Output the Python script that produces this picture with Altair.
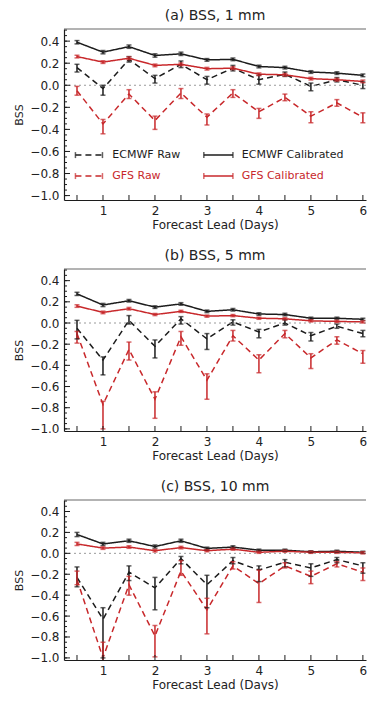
import altair as alt
import pandas as pd

# ---------------- data ----------------
lead = [0.5, 1.0, 1.5, 2.0, 2.5, 3.0, 3.5, 4.0, 4.5, 5.0, 5.5, 6.0]
series_names = ["ECMWF Raw", "ECMWF Calibrated", "GFS Raw", "GFS Calibrated"]

# (a) 1 mm
a_ec_raw = [0.16, -0.03, 0.235, 0.06, 0.19, 0.05, 0.155, 0.05, 0.10, -0.01, 0.05, 0.0]
a_ec_raw_lo = [0.12, -0.09, 0.21, 0.02, 0.16, 0.01, 0.13, 0.01, 0.08, -0.05, 0.03, -0.03]
a_ec_raw_hi = [0.19, 0.00, 0.26, 0.09, 0.22, 0.08, 0.18, 0.09, 0.12, 0.02, 0.07, 0.03]
a_ec_cal = [0.39, 0.30, 0.35, 0.27, 0.285, 0.23, 0.235, 0.17, 0.16, 0.12, 0.11, 0.09]
a_ec_cal_err = [0.015, 0.015, 0.015, 0.015, 0.015, 0.012, 0.012, 0.012, 0.012, 0.012, 0.012, 0.012]
a_gfs_raw = [-0.05, -0.35, -0.08, -0.32, -0.07, -0.29, -0.07, -0.24, -0.11, -0.28, -0.16, -0.29]
a_gfs_raw_lo = [-0.09, -0.44, -0.12, -0.40, -0.12, -0.36, -0.11, -0.30, -0.14, -0.34, -0.19, -0.34]
a_gfs_raw_hi = [-0.01, -0.31, -0.04, -0.28, -0.03, -0.26, -0.04, -0.21, -0.08, -0.24, -0.13, -0.25]
a_gfs_cal = [0.26, 0.21, 0.245, 0.18, 0.19, 0.15, 0.155, 0.10, 0.095, 0.06, 0.05, 0.035]
a_gfs_cal_err = [0.012, 0.012, 0.012, 0.012, 0.012, 0.012, 0.012, 0.012, 0.012, 0.012, 0.012, 0.012]

# (b) 5 mm
b_ec_raw = [-0.05, -0.35, 0.025, -0.22, 0.04, -0.15, 0.01, -0.085, 0.0, -0.12, -0.03, -0.10]
b_ec_raw_lo = [-0.15, -0.49, -0.01, -0.33, -0.01, -0.25, -0.02, -0.14, -0.02, -0.17, -0.05, -0.13]
b_ec_raw_hi = [0.025, -0.32, 0.07, -0.16, 0.06, -0.10, 0.03, -0.06, 0.03, -0.09, -0.01, -0.07]
b_ec_cal = [0.275, 0.17, 0.21, 0.15, 0.18, 0.11, 0.125, 0.085, 0.08, 0.045, 0.045, 0.035]
b_ec_cal_err = [0.015, 0.015, 0.012, 0.012, 0.012, 0.012, 0.012, 0.012, 0.012, 0.01, 0.01, 0.01]
b_gfs_raw = [-0.10, -0.77, -0.25, -0.72, -0.13, -0.54, -0.12, -0.35, -0.10, -0.33, -0.16, -0.29]
b_gfs_raw_lo = [-0.19, -1.00, -0.35, -0.90, -0.21, -0.72, -0.17, -0.47, -0.14, -0.43, -0.20, -0.38]
b_gfs_raw_hi = [-0.08, -0.74, -0.18, -0.65, -0.08, -0.48, -0.07, -0.30, -0.07, -0.29, -0.13, -0.26]
b_gfs_cal = [0.16, 0.10, 0.135, 0.08, 0.11, 0.065, 0.07, 0.045, 0.04, 0.02, 0.015, 0.01]
b_gfs_cal_err = [0.012, 0.012, 0.012, 0.01, 0.01, 0.01, 0.01, 0.01, 0.01, 0.01, 0.01, 0.01]

# (c) 10 mm
c_ec_raw = [-0.23, -0.63, -0.18, -0.33, -0.05, -0.30, -0.07, -0.16, -0.085, -0.14, -0.06, -0.12]
c_ec_raw_lo = [-0.32, -1.00, -0.26, -0.54, -0.10, -0.52, -0.10, -0.27, -0.13, -0.22, -0.09, -0.19]
c_ec_raw_hi = [-0.13, -0.52, -0.12, -0.23, -0.03, -0.21, -0.04, -0.12, -0.06, -0.10, -0.04, -0.09]
c_ec_cal = [0.18, 0.09, 0.12, 0.065, 0.12, 0.047, 0.06, 0.03, 0.03, 0.015, 0.02, 0.01]
c_ec_cal_err = [0.02, 0.015, 0.015, 0.015, 0.015, 0.012, 0.012, 0.01, 0.01, 0.01, 0.01, 0.01]
c_gfs_raw = [-0.25, -1.00, -0.30, -0.79, -0.17, -0.54, -0.12, -0.29, -0.12, -0.22, -0.10, -0.18]
c_gfs_raw_lo = [-0.30, -1.03, -0.40, -0.99, -0.21, -0.77, -0.15, -0.47, -0.14, -0.29, -0.13, -0.26]
c_gfs_raw_hi = [-0.17, -0.85, -0.22, -0.69, -0.07, -0.43, -0.08, -0.16, -0.09, -0.17, -0.08, -0.14]
c_gfs_cal = [0.09, 0.05, 0.06, 0.025, 0.055, 0.025, 0.04, 0.01, 0.02, 0.01, 0.01, 0.005]
c_gfs_cal_err = [0.015, 0.012, 0.012, 0.012, 0.012, 0.01, 0.01, 0.01, 0.01, 0.01, 0.01, 0.01]

titles = ["(a) BSS, 1 mm", "(b) BSS, 5 mm", "(c) BSS, 10 mm"]
x_labels = [1, 2, 3, 4, 5, 6]
y_labels = [-1.0, -0.8, -0.6, -0.4, -0.2, 0.0, 0.2, 0.4]

# ---------------- styling ----------------
BLACK = "#1c1c1c"
RED = "#c8282b"
FONT = "DejaVu Sans"
WIDTH = 302
X_DOMAIN = [0.25, 6.06]

X_AXIS = alt.Axis(values=x_labels, format="d", ticks=False, labelPadding=5, labelOverlap=False,
                  title="Forecast Lead (Days)", titlePadding=3)
Y_AXIS = alt.Axis(values=y_labels, format=".1f", ticks=False, labelPadding=5, labelOverlap=False,
                  title="BSS", titlePadding=5)


def build_df(ec_raw, ec_raw_lo, ec_raw_hi, ec_cal, ec_cal_err,
             gfs_raw, gfs_raw_lo, gfs_raw_hi, gfs_cal, gfs_cal_err):
    rows = []
    for i, x in enumerate(lead):
        rows.append(dict(lead=x, series="ECMWF Raw", bss=ec_raw[i], lo=ec_raw_lo[i], hi=ec_raw_hi[i]))
        rows.append(dict(lead=x, series="ECMWF Calibrated", bss=ec_cal[i],
                         lo=ec_cal[i] - ec_cal_err[i], hi=ec_cal[i] + ec_cal_err[i]))
        rows.append(dict(lead=x, series="GFS Raw", bss=gfs_raw[i], lo=gfs_raw_lo[i], hi=gfs_raw_hi[i]))
        rows.append(dict(lead=x, series="GFS Calibrated", bss=gfs_cal[i],
                         lo=gfs_cal[i] - gfs_cal_err[i], hi=gfs_cal[i] + gfs_cal_err[i]))
    return pd.DataFrame(rows)


def panel(df, title, height, ymin, with_legend=False):
    xs = alt.Scale(domain=X_DOMAIN, nice=False, zero=False)
    ys = alt.Scale(domain=[ymin, 0.51], nice=False, zero=False)

    def X(f):
        return alt.X(f, scale=xs, axis=X_AXIS)

    def Y(f):
        return alt.Y(f, scale=ys, axis=Y_AXIS)

    color = alt.Color("series:N", scale=alt.Scale(domain=series_names, range=[BLACK, BLACK, RED, RED]), legend=None)
    dash = alt.StrokeDash("series:N", scale=alt.Scale(domain=series_names, range=[[6, 4], [1, 0], [6, 4], [1, 0]]), legend=None)
    base = alt.Chart(df)
    lines = base.mark_line(strokeWidth=1.5, clip=True).encode(
        x=X("lead:Q"), y=Y("bss:Q"), color=color, strokeDash=dash)
    zero = alt.Chart(pd.DataFrame({"z": [0]})).mark_rule(strokeDash=[2, 3], color="#9a9a9a", strokeWidth=1).encode(
        y=Y("z:Q"))
    frame_top = alt.Chart(pd.DataFrame({"z": [0]})).mark_rule(color="#9a9a9a", strokeWidth=1.5).encode(
        y=alt.value(0), x=alt.value(0), x2=alt.value(WIDTH))
    bars = base.mark_rule(strokeWidth=1.5, clip=True).encode(
        x=X("lead:Q"), y=Y("lo:Q"), y2="hi:Q", color=color)
    caps = base.transform_fold(["lo", "hi"], as_=["k", "v"]).mark_tick(
        orient="horizontal", size=5, thickness=1.5, clip=True).encode(
        x=X("lead:Q"), y=Y("v:Q"), color=color)

    # inward axis ticks
    y_minor = [round(-1.0 + 0.05 * k, 2) for k in range(31)]
    x_minor = [0.5 * k for k in range(1, 13)]
    tk_style = dict(color=BLACK, strokeWidth=1)
    ytick_minor = alt.Chart(pd.DataFrame({"t": y_minor})).mark_rule(**tk_style).encode(
        y=Y("t:Q"), x=alt.value(0), x2=alt.value(3))
    ytick_major = alt.Chart(pd.DataFrame({"t": y_labels})).mark_rule(**tk_style).encode(
        y=Y("t:Q"), x=alt.value(0), x2=alt.value(6))
    xtick = alt.Chart(pd.DataFrame({"t": x_minor})).mark_rule(**tk_style).encode(
        x=X("t:Q"), y=alt.value(height), y2=alt.value(height - 5))

    layers = [lines, zero, frame_top, bars, caps, ytick_minor, ytick_major, xtick]

    if with_legend:
        leg = pd.DataFrame({
            "series": series_names,
            "x0": [0.47, 2.94, 0.47, 2.94],
            "x1": [0.99, 3.50, 0.99, 3.50],
            "tx": [1.18, 3.67, 1.18, 3.67],
            "y": [-0.633, -0.633, -0.823, -0.823],
        })
        lchart = alt.Chart(leg)
        leg_line = lchart.mark_rule(strokeWidth=1.5).encode(
            x=X("x0:Q"), x2="x1:Q", y=Y("y:Q"), color=color, strokeDash=dash)
        leg_cap0 = lchart.mark_tick(orient="vertical", size=6, thickness=1.5).encode(
            x=X("x0:Q"), y=Y("y:Q"), color=color)
        leg_cap1 = lchart.mark_tick(orient="vertical", size=6, thickness=1.5).encode(
            x=X("x1:Q"), y=Y("y:Q"), color=color)
        leg_text = lchart.mark_text(align="left", baseline="middle", font=FONT, fontSize=11).encode(
            x=X("tx:Q"), y=Y("y:Q"), text="series:N", color=color)
        layers += [leg_line, leg_cap0, leg_cap1, leg_text]

    return alt.layer(*layers).properties(
        width=WIDTH, height=height,
        title=alt.TitleParams(title, font=FONT, fontSize=14, fontWeight="normal", color="#222222",
                              anchor="middle", offset=5),
    )


df_a = build_df(a_ec_raw, a_ec_raw_lo, a_ec_raw_hi, a_ec_cal, a_ec_cal_err,
                a_gfs_raw, a_gfs_raw_lo, a_gfs_raw_hi, a_gfs_cal, a_gfs_cal_err)
df_b = build_df(b_ec_raw, b_ec_raw_lo, b_ec_raw_hi, b_ec_cal, b_ec_cal_err,
                b_gfs_raw, b_gfs_raw_lo, b_gfs_raw_hi, b_gfs_cal, b_gfs_cal_err)
df_c = build_df(c_ec_raw, c_ec_raw_lo, c_ec_raw_hi, c_ec_cal, c_ec_cal_err,
                c_gfs_raw, c_gfs_raw_lo, c_gfs_raw_hi, c_gfs_cal, c_gfs_cal_err)

pa = panel(df_a, titles[0], 171, -1.04, with_legend=True)
pb = panel(df_b, titles[1], 162, -1.02)
pc = panel(df_c, titles[2], 160, -1.02)

chart = alt.vconcat(pa, pb, pc, spacing=19).properties(
    padding={"left": 5, "top": 1, "right": 0, "bottom": 0}
).configure_view(
    strokeWidth=0
).configure_axis(
    grid=False, domainColor=BLACK, domainWidth=1.2,
    labelFont=FONT, labelFontSize=12, labelColor="#222222",
    titleFont=FONT, titleFontSize=12, titleFontWeight="normal", titleColor="#222222",
).configure_axisY(titleFontSize=11)

chart.save("out.html", embed_options={"renderer": "svg", "actions": False})
